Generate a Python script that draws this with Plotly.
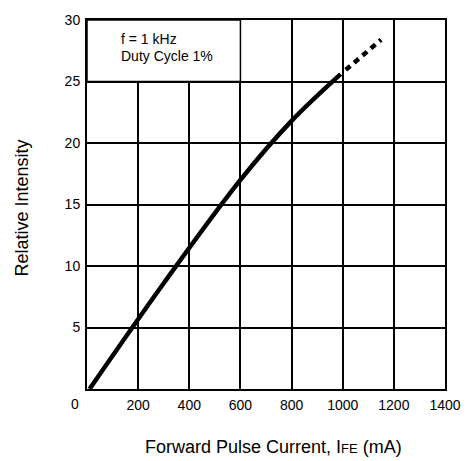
import plotly.graph_objects as go

# Data
current_solid = [10, 300, 600, 800, 992]
intensity_solid = [0, 8.6, 17.0, 21.8, 25.6]
current_dash = [1012, 1150]
intensity_dash = [25.95, 28.4]

x_ticks = [200, 400, 600, 800, 1000, 1200, 1400]
y_ticks = [5, 10, 15, 20, 25, 30]
note_lines = ["f = 1 kHz", "Duty Cycle 1%"]

FONT = "Liberation Sans, Arial, Helvetica, sans-serif"

fig = go.Figure()
fig.add_trace(go.Scatter(x=current_solid, y=intensity_solid, mode="lines",
                         line=dict(color="black", width=4.5, shape="spline", smoothing=1.0),
                         showlegend=False, hoverinfo="skip"))
fig.add_trace(go.Scatter(x=current_dash, y=intensity_dash, mode="lines",
                         line=dict(color="black", width=4.5, dash="6px,5px"),
                         showlegend=False, hoverinfo="skip"))

# white box for the note (covers grid in top-left cell)
fig.add_shape(type="rect", x0=0, x1=600, y0=25, y1=30, xref="x", yref="y",
              fillcolor="white", line=dict(color="black", width=1.5), layer="between")

fig.add_annotation(text=note_lines[0], x=0.09, y=1, xref="paper", yref="paper",
                   xanchor="left", yanchor="middle", showarrow=False, yshift=-19,
                   font=dict(family=FONT, size=14, color="black"))
fig.add_annotation(text=note_lines[1], x=0.09, y=1, xref="paper", yref="paper",
                   xanchor="left", yanchor="middle", showarrow=False, yshift=-36,
                   font=dict(family=FONT, size=14, color="black"))

# corner "0"
fig.add_annotation(text="0", x=0, y=0, xref="paper", yref="paper",
                   xanchor="center", yanchor="middle", showarrow=False,
                   xshift=-12, yshift=-15,
                   font=dict(family=FONT, size=14, color="black"))

# axis titles
fig.add_annotation(text="Forward Pulse Current, I<span style='font-size:13px'>FE</span> (mA)",
                   x=0.52, y=0, xref="paper", yref="paper",
                   xanchor="center", yanchor="middle", showarrow=False, yshift=-58,
                   font=dict(family=FONT, size=18, color="black"))
fig.add_annotation(text="Relative Intensity", x=0, y=0.489, xref="paper", yref="paper",
                   xanchor="center", yanchor="middle", showarrow=False, xshift=-65,
                   textangle=-90, font=dict(family=FONT, size=18, color="black"))

fig.update_xaxes(range=[0, 1400], tickvals=x_ticks, ticktext=[str(v) for v in x_ticks],
                 showgrid=True, gridcolor="black", gridwidth=1.5,
                 showline=True, linecolor="black", linewidth=2, mirror=True,
                 zeroline=False, ticks="", tickfont=dict(family=FONT, size=14, color="black"),
                 ticklabelstandoff=2)
fig.update_yaxes(range=[0, 30], tickvals=y_ticks, ticktext=[str(v) for v in y_ticks],
                 showgrid=True, gridcolor="black", gridwidth=1.5,
                 showline=True, linecolor="black", linewidth=2, mirror=True,
                 zeroline=False, ticks="", tickfont=dict(family=FONT, size=14, color="black"),
                 ticklabelstandoff=2)

fig.update_layout(width=473, height=461, margin=dict(l=87, r=17, t=15, b=72),
                  plot_bgcolor="white", paper_bgcolor="white",
                  font=dict(family=FONT, color="black"))

fig.write_html("out.html", config={"displayModeBar": False},
               post_script="document.body.style.margin='0';document.body.style.overflow='hidden';")
